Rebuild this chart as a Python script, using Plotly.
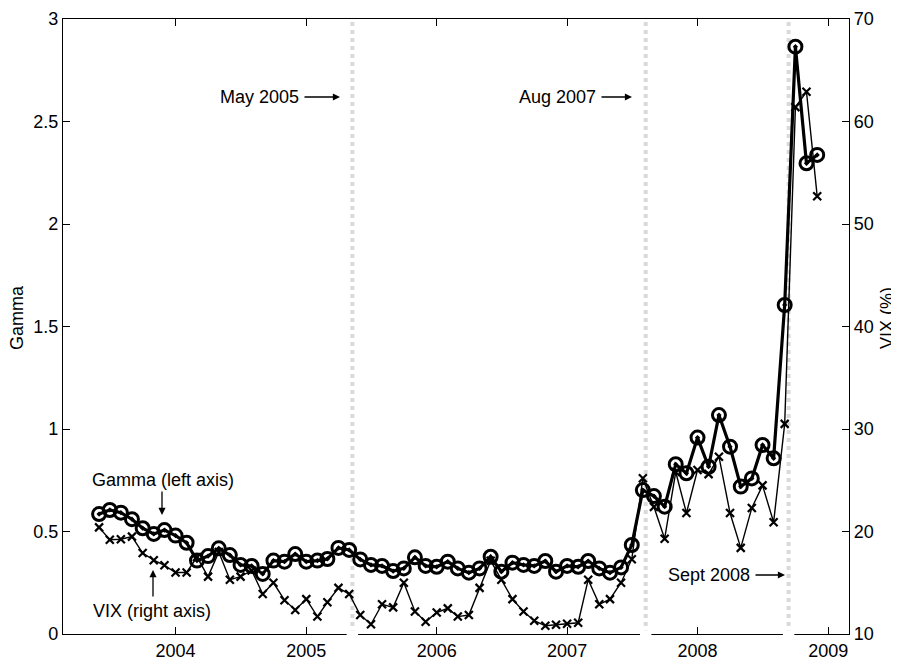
import pandas as pd
import plotly.graph_objects as go

# ---- data (monthly, Jun 2003 - Dec 2008) ----
months = pd.date_range("2003-06-01", periods=67, freq="MS")

gamma = [0.585, 0.605, 0.592, 0.56, 0.516, 0.488, 0.507, 0.48, 0.445, 0.358,
         0.38, 0.418, 0.385, 0.337, 0.332, 0.293, 0.358, 0.353, 0.39, 0.353,
         0.358, 0.366, 0.42, 0.41, 0.364, 0.337, 0.332, 0.307, 0.32, 0.374,
         0.332, 0.328, 0.353, 0.32, 0.299, 0.32, 0.377, 0.304, 0.348, 0.337,
         0.332, 0.356, 0.304, 0.332, 0.328, 0.356, 0.32, 0.299, 0.325, 0.434,
         0.702, 0.673, 0.621, 0.828, 0.784, 0.958, 0.816, 1.068, 0.914, 0.719,
         0.759, 0.922, 0.857, 1.605, 2.865, 2.296, 2.337]

vix = [20.4, 19.2, 19.25, 19.5, 17.9, 17.2, 16.7, 16.0, 16.0, 17.5,
       15.6, 18.0, 15.3, 15.6, 16.2, 13.9, 15.0, 13.3, 12.35, 13.4,
       11.7, 13.1, 14.5, 13.9, 11.85, 10.95, 12.9, 12.6, 15.0, 12.2,
       11.2, 12.1, 12.5, 11.7, 11.85, 14.5, 17.15, 15.3, 13.4, 12.2,
       11.3, 10.8, 10.9, 11.0, 11.1, 15.3, 12.9, 13.4, 15.0, 17.3,
       25.2, 22.4, 19.3, 25.8, 21.8, 26.0, 25.6, 27.3, 21.8, 18.4,
       22.3, 24.5, 20.9, 30.5, 61.4, 62.9, 52.7]

event_dates = ["2005-05-10", "2007-08-09", "2008-09-12"]
event_labels = ["May 2005", "Aug 2007", "Sept 2008"]

year_ticks = ["2004-01-01", "2005-01-01", "2006-01-01", "2007-01-01", "2008-01-01", "2009-01-01"]
year_labels = ["2004", "2005", "2006", "2007", "2008", "2009"]

FONT = "Liberation Sans, Arial, Helvetica, sans-serif"
FS = 18

# the page body adds an 8px offset; size the figure so it lands on the 899x665 window
OFF = 8

fig = go.Figure()

fig.add_trace(go.Scatter(
    x=months, y=vix, yaxis="y2", mode="lines+markers",
    line=dict(color="black", width=1.4),
    marker=dict(symbol="x-thin-open", size=8, line=dict(color="black", width=2.2)),
    name="VIX", showlegend=False))

fig.add_trace(go.Scatter(
    x=months, y=gamma, yaxis="y", mode="lines+markers",
    line=dict(color="black", width=3.2),
    marker=dict(symbol="circle-open-dot", size=13, color="black",
                line=dict(color="black", width=3)),
    name="Gamma", showlegend=False))

shapes = []
for d in event_dates:
    dt = pd.Timestamp(d)
    shapes.append(dict(type="line", xref="x", yref="paper", x0=dt, x1=dt, y0=0, y1=1,
                       line=dict(color="#dadada", width=4, dash="dot"), layer="below"))
    shapes.append(dict(type="rect", xref="x", yref="paper",
                       x0=dt - pd.Timedelta(days=16), x1=dt + pd.Timedelta(days=16),
                       y0=-0.006, y1=0.006, fillcolor="white", line=dict(width=0),
                       layer="above"))

W0, PW, B0, PH = 63, 786, 634, 615
def px(xp):
    return (xp - W0) / PW
def py(yp):
    return (B0 - yp) / PH

ann = []
ev_pos = [(301, 340, 97), (598, 632, 97), (752, 785, 575)]
for lab, (tx, hx, yy) in zip(event_labels, ev_pos):
    ann.append(dict(xref="paper", yref="paper", x=px(tx), y=py(yy), text=lab,
                    showarrow=False, xanchor="right", yanchor="middle",
                    font=dict(family=FONT, size=FS, color="black")))
    ann.append(dict(xref="paper", yref="paper", x=px(hx), y=py(yy), text="",
                    showarrow=True, ax=-(hx - tx - 2), ay=0, arrowhead=2,
                    arrowsize=1.1, arrowwidth=1.3, arrowcolor="black"))

ann.append(dict(xref="paper", yref="paper", x=px(163), y=py(480), text="Gamma (left axis)",
                showarrow=False, xanchor="center", yanchor="middle",
                font=dict(family=FONT, size=FS, color="black")))
ann.append(dict(xref="paper", yref="paper", x=px(162), y=py(515), text="",
                showarrow=True, ax=0, ay=-25, arrowhead=2, arrowsize=1.1,
                arrowwidth=1.3, arrowcolor="black"))
ann.append(dict(xref="paper", yref="paper", x=px(152), y=py(611), text="VIX (right axis)",
                showarrow=False, xanchor="center", yanchor="middle",
                font=dict(family=FONT, size=FS, color="black")))
ann.append(dict(xref="paper", yref="paper", x=px(153), y=py(570), text="",
                showarrow=True, ax=0, ay=28, arrowhead=2, arrowsize=1.1,
                arrowwidth=1.3, arrowcolor="black"))

# axis titles
ann.append(dict(xref="paper", yref="paper", x=px(17), y=py(318), text="Gamma",
                textangle=-90, showarrow=False, xanchor="center", yanchor="middle",
                font=dict(family=FONT, size=FS, color="black")))
ann.append(dict(xref="paper", yref="paper", x=px(887), y=py(318), text="VIX (%)",
                textangle=-90, showarrow=False, xanchor="center", yanchor="middle",
                font=dict(family=FONT, size=FS, color="black")))

fig.update_layout(
    width=899 - OFF, height=665 - OFF,
    margin=dict(l=63 - OFF, r=50, t=19 - OFF, b=31, autoexpand=False),
    paper_bgcolor="white", plot_bgcolor="white",
    font=dict(family=FONT, size=FS, color="black"),
    xaxis=dict(type="date", range=["2003-02-20", "2009-02-28"],
               tickvals=year_ticks, ticktext=year_labels, automargin=False,
               ticks="inside", ticklen=7, tickwidth=1, tickcolor="black",
               showline=True, linecolor="black", linewidth=1.2, mirror="ticks",
               showgrid=False, zeroline=False),
    yaxis=dict(range=[0, 3], dtick=0.5, ticks="inside", ticklen=7, tickcolor="black",
               showline=True, linecolor="black", linewidth=1.2, automargin=False,
               showgrid=False, zeroline=False),
    yaxis2=dict(range=[10, 70], dtick=10, overlaying="y", side="right",
                ticks="inside", ticklen=7, tickcolor="black", automargin=False,
                showline=True, linecolor="black", linewidth=1.2,
                showgrid=False, zeroline=False),
    shapes=shapes, annotations=ann,
)

fig.write_html("out.html")
